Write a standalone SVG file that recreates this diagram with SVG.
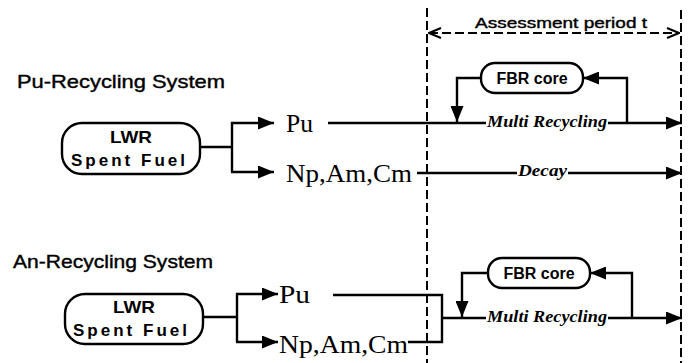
<svg xmlns="http://www.w3.org/2000/svg" width="690" height="363" viewBox="0 0 690 363">
<defs>
<marker id="ah" viewBox="0 0 16 13" refX="16" refY="6.5" markerWidth="16" markerHeight="13" orient="auto" markerUnits="userSpaceOnUse">
<path d="M0,0 L16,6.5 L0,13 z" fill="#000"/>
</marker>
<marker id="oa" viewBox="0 0 14 12" refX="13" refY="6" markerWidth="14" markerHeight="12" orient="auto-start-reverse" markerUnits="userSpaceOnUse">
<path d="M1,1 L13,6 L1,11" fill="none" stroke="#000" stroke-width="2"/>
</marker>
</defs>
<style>
.ln{fill:none;stroke:#000;stroke-width:2.4}
.arr{marker-end:url(#ah)}
.dash{fill:none;stroke:#000;stroke-width:2;stroke-dasharray:9 4}
.box{fill:#fff;stroke:#000;stroke-width:2.4}
.bg{fill:#fff}
.title{font-family:"Liberation Sans",Arial,sans-serif;font-size:19px;fill:#000;stroke:#000;stroke-width:0.4}
.lbl{font-family:"Liberation Sans",Arial,sans-serif;font-weight:bold;font-size:17px;fill:#000}
.fbr{font-family:"Liberation Sans",Arial,sans-serif;font-weight:bold;font-size:16px;fill:#000}
.el{font-family:"Liberation Serif","Times New Roman",serif;font-size:25px;fill:#000}
.it{font-family:"Liberation Serif","Times New Roman",serif;font-style:italic;font-weight:bold;font-size:16px;fill:#000}
.ap{font-family:"Liberation Sans",Arial,sans-serif;font-size:15px;fill:#000;stroke:#000;stroke-width:0.4}
</style>
<rect width="690" height="363" fill="#fff"/>

<g id="period">
<line class="dash" x1="427" y1="8" x2="427" y2="363"/>
<line class="dash" x1="681" y1="10" x2="681" y2="363"/>
<line class="dash" x1="429" y1="33" x2="679" y2="33" style="marker-start:url(#oa);marker-end:url(#oa)"/>
<rect class="bg" x="474" y="14" width="175" height="16"/>
<text class="ap" x="475" y="28" textLength="172" lengthAdjust="spacingAndGlyphs">Assessment period t</text>
</g>

<text id="title1" class="title" x="17" y="88" textLength="208" lengthAdjust="spacingAndGlyphs">Pu-Recycling System</text>
<text id="title2" class="title" x="13" y="268" textLength="200" lengthAdjust="spacingAndGlyphs">An-Recycling System</text>

<g id="connectors">
<!-- upper system -->
<path class="ln" d="M200,147 H232 M232,122 V172"/>
<path class="ln arr" d="M231,123 H274"/>
<path class="ln arr" d="M231,172 H274"/>
<path class="ln arr" d="M328,123 H682"/>
<path class="ln arr" d="M417,173 H682"/>
<path class="ln arr" d="M482,78 H457 V122"/>
<path class="ln arr" d="M627,123 V78 H583"/>
<!-- lower system -->
<path class="ln" d="M202,317 H237 M237,293 V342"/>
<path class="ln arr" d="M236,294 H278"/>
<path class="ln arr" d="M236,342 H278"/>
<path class="ln" d="M333,295 H442 V342 H408"/>
<path class="ln arr" d="M442,318 H682"/>
<path class="ln arr" d="M489,273 H462 V317"/>
<path class="ln arr" d="M632,318 V273 H590"/>
</g>

<g id="lwr1">
<rect class="box" x="62" y="123" width="138" height="51" rx="20" ry="20"/>
<text class="lbl" x="131" y="143" text-anchor="middle" textLength="42" lengthAdjust="spacingAndGlyphs">LWR</text>
<text class="lbl" x="71" y="166" textLength="114" lengthAdjust="spacing">Spent Fuel</text>
</g>
<g id="pu1"><text class="el" x="286" y="132" textLength="27" lengthAdjust="spacingAndGlyphs">Pu</text></g>
<g id="npamcm1"><text class="el" x="286" y="182" textLength="126" lengthAdjust="spacingAndGlyphs">Np,Am,Cm</text></g>
<g id="fbr1">
<rect class="box" x="481" y="63" width="102" height="30" rx="14" ry="14"/>
<text class="fbr" x="532" y="84" text-anchor="middle">FBR core</text>
</g>
<rect class="bg" x="486" y="114" width="122" height="13"/>
<text id="mr1" class="it" x="487" y="127" textLength="120" lengthAdjust="spacingAndGlyphs">Multi Recycling</text>
<rect class="bg" x="517" y="163" width="51" height="13"/>
<text id="decay" class="it" x="518" y="176" textLength="49" lengthAdjust="spacingAndGlyphs">Decay</text>

<g id="lwr2">
<rect class="box" x="65" y="294" width="138" height="50" rx="20" ry="20"/>
<text class="lbl" x="134" y="313" text-anchor="middle" textLength="42" lengthAdjust="spacingAndGlyphs">LWR</text>
<text class="lbl" x="73" y="336" textLength="114" lengthAdjust="spacing">Spent Fuel</text>
</g>
<g id="pu2"><text class="el" x="279" y="303" textLength="31" lengthAdjust="spacingAndGlyphs">Pu</text></g>
<g id="npamcm2"><text class="el" x="279" y="353" textLength="129" lengthAdjust="spacingAndGlyphs">Np,Am,Cm</text></g>
<g id="fbr2">
<rect class="box" x="488" y="258" width="102" height="30" rx="14" ry="14"/>
<text class="fbr" x="539" y="279" text-anchor="middle">FBR core</text>
</g>
<rect class="bg" x="486" y="309" width="122" height="13"/>
<text id="mr2" class="it" x="487" y="322" textLength="120" lengthAdjust="spacingAndGlyphs">Multi Recycling</text>
</svg>
